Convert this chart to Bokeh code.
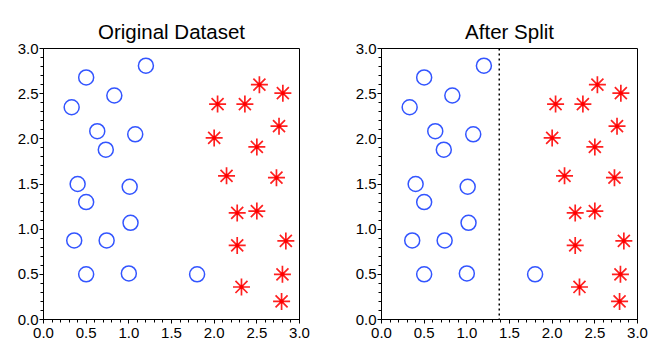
from bokeh.plotting import figure
from bokeh.layouts import row
from bokeh.models import Range1d, SingleIntervalTicker, Span, PrintfTickFormatter
from bokeh.embed import file_html
from bokeh.resources import INLINE

# Class A (blue circles)
circ_x = [1.20, 0.50, 0.83, 0.33, 0.63, 1.075, 0.73, 0.40, 1.01, 0.50, 1.02, 0.36, 0.74, 0.50, 1.00, 1.80]
circ_y = [2.81, 2.68, 2.48, 2.35, 2.085, 2.05, 1.88, 1.50, 1.47, 1.30, 1.07, 0.875, 0.875, 0.50, 0.51, 0.50]
# Class B (red stars)
star_x = [2.53, 2.805, 2.04, 2.36, 2.76, 2.00, 2.50, 2.145, 2.73, 2.27, 2.50, 2.27, 2.84, 2.80, 2.32, 2.79]
star_y = [2.60, 2.505, 2.385, 2.385, 2.14, 2.01, 1.91, 1.59, 1.57, 1.18, 1.20, 0.82, 0.87, 0.50, 0.36, 0.20]
split_x = 1.38
titles = ["Original Dataset", "After Split"]

FONT = "Liberation Sans"


def make(title, border_right, split=None, offset=0):
    p = figure(frame_width=256, frame_height=271, output_backend="svg",
               toolbar_location=None, x_range=Range1d(0, 3), y_range=Range1d(0, 3),
               min_border_left=43, min_border_right=border_right,
               min_border_top=48, min_border_bottom=37)
    p.title.text = title
    p.title.text_font = FONT
    p.title.text_font_size = "20.5px"
    p.title.text_font_style = "normal"
    p.title.text_color = "black"
    p.title.align = "center"
    p.title.offset = offset
    p.title.standoff = 12
    p.grid.visible = False
    p.outline_line_color = "black"
    p.outline_line_alpha = 1
    p.outline_line_width = 1
    for ax in (p.xaxis[0], p.yaxis[0]):
        ax.ticker = SingleIntervalTicker(interval=0.5, num_minor_ticks=5)
        ax.formatter = PrintfTickFormatter(format="%.1f")
        ax.major_label_text_font = FONT
        ax.major_label_text_font_size = "15px"
        ax.major_label_text_color = "black"
        ax.axis_line_color = "black"
        ax.major_tick_line_color = "black"
        ax.minor_tick_line_color = "black"
        ax.major_tick_in = 0
        ax.major_tick_out = 4
        ax.minor_tick_in = 0
        ax.minor_tick_out = 3
    p.xaxis[0].major_label_standoff = 4
    p.yaxis[0].major_label_standoff = 1
    p.scatter(circ_x, circ_y, marker="circle", size=15, fill_color=None,
              line_color="#3355ff", line_width=1.5)
    p.scatter(star_x, star_y, marker="asterisk", size=17, line_color="#ff2020",
              line_width=1.7)
    p.scatter(star_x, star_y, marker="circle", size=4, fill_color="#ff0000",
              line_color=None)
    if split is not None:
        p.add_layout(Span(location=split, dimension="height", line_color="black",
                          line_width=1.5, line_dash="2 3"))
    return p


p1 = make(titles[0], 39, offset=-7)
p2 = make(titles[1], 20, split=split_x, offset=-2)
p = row(p1, p2)

open("out.html", "w").write(file_html(p, INLINE))
